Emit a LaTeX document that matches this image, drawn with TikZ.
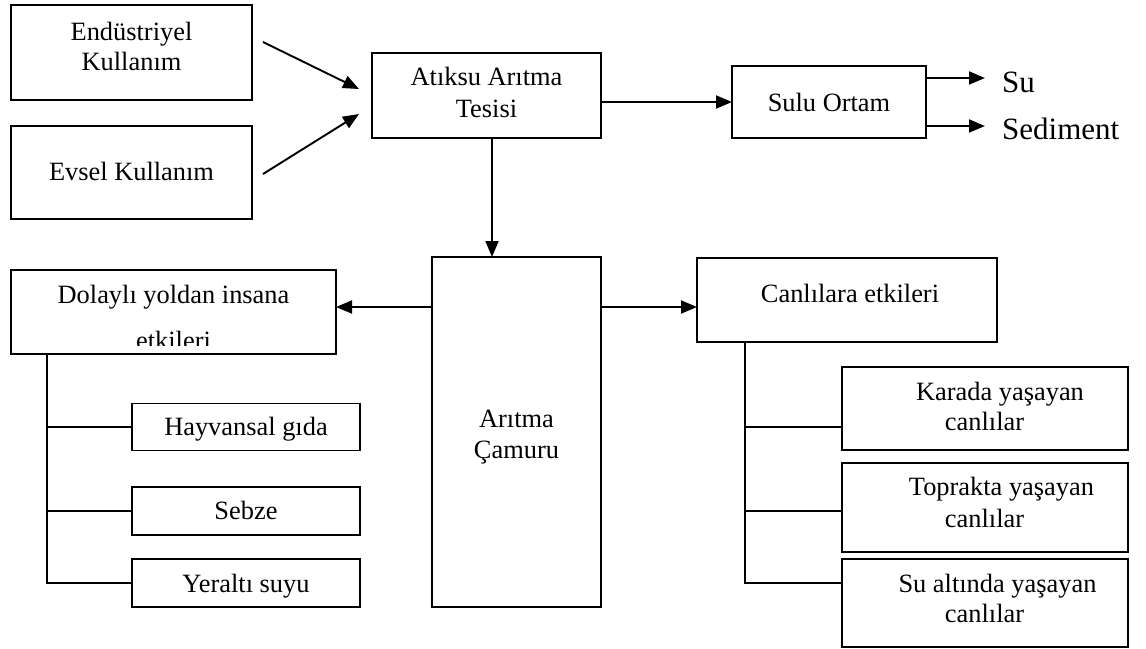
\documentclass[tikz,border=0pt]{standalone}
\usepackage{fontspec}
\setmainfont{Liberation Serif}
\usetikzlibrary{arrows.meta}
\begin{document}
\begin{tikzpicture}[x=1pt,y=-1pt,
  box/.style={draw, line width=1.9pt, inner sep=0pt, outer sep=0pt},
  txt/.style={font=\fontsize{26.4}{31}\selectfont, align=center, anchor=base, inner sep=0pt},
  big/.style={font=\fontsize{31}{36}\selectfont, anchor=base west, inner sep=0pt},
  arr/.style={line width=1.9pt, -{Triangle[length=16pt,width=13pt]}},
  link/.style={line width=1.9pt}]
\useasboundingbox (0,0) rectangle (1146,648);

% sources (text nodes are placed at the baseline of their last line)
\node[box, minimum width=241pt, minimum height=95pt] (endu) at (131.5,52.5) {};
\node[txt, font=\fontsize{26.4}{30}\selectfont] (endut) at (131.5,70) {Endüstriyel\\Kullanım};
\node[box, minimum width=241pt, minimum height=93pt] (evsel) at (131.5,172.5) {};
\node[txt] (evselt) at (131.5,180) {Evsel Kullanım};

% treatment plant and receiving water
\node[box, minimum width=229pt, minimum height=85pt] (atiksu) at (486.5,95.5) {};
\node[txt, font=\fontsize{26.4}{32}\selectfont] (atiksut) at (486.5,117) {Atıksu Arıtma\\Tesisi};
\node[box, minimum width=194pt, minimum height=72pt] (sulu) at (829,102) {};
\node[txt] (sulut) at (829,111) {Sulu Ortam};
\node[big] (su) at (1002,92) {Su};
\node[big] (sed) at (1002,139) {Sediment};
\coordinate (suend) at (985,78);
\coordinate (sedend) at (985,126);

% sludge
\node[box, minimum width=169pt, minimum height=350pt] (arit) at (516.5,432) {};
\node[txt] (aritt) at (516.5,458) {Arıtma\\Çamuru};

% indirect effects on humans
\node[box, minimum width=325pt, minimum height=84pt] (dolayli) at (173.5,312) {};
\begin{scope}
  \clip (11,270) rectangle (336,345);
  \node[txt, font=\fontsize{26.4}{46}\selectfont] (dolaylit) at (173.5,349) {Dolaylı yoldan insana\\etkileri};
\end{scope}
\node[box, minimum width=228pt, minimum height=47pt] (hayv) at (246,427) {};
\node[txt] (hayvt) at (246,435) {Hayvansal gıda};
\node[box, minimum width=228pt, minimum height=48pt] (sebze) at (246,511) {};
\node[txt] (sebzet) at (246,519) {Sebze};
\node[box, minimum width=228pt, minimum height=48pt] (yeralti) at (246,583) {};
\node[txt] (yeraltit) at (246,592) {Yeraltı suyu};

% effects on living things
\node[box, minimum width=300pt, minimum height=84pt] (canli) at (847,300) {};
\node[txt] (canlit) at (850,302) {Canlılara etkileri};
\node[box, minimum width=286pt, minimum height=83pt] (karada) at (985,408.5) {};
\node[txt, font=\fontsize{26.4}{30}\selectfont] (karadat) at (984.5,430) {\hspace*{31pt}Karada yaşayan\\canlılar};
\node[box, minimum width=286pt, minimum height=89pt] (toprak) at (985,507.5) {};
\node[txt, font=\fontsize{26.4}{32}\selectfont] (toprakt) at (984.5,527) {\hspace*{34pt}Toprakta yaşayan\\canlılar};
\node[box, minimum width=286pt, minimum height=88pt] (sualti) at (985,603) {};
\node[txt, font=\fontsize{26.4}{30}\selectfont] (sualtit) at (984.5,622) {\hspace*{26pt}Su altında yaşayan\\canlılar};

% flows
\draw[arr] ([shift={(11,-10.5)}]endu.east) -- ([shift={(-13,-6.5)}]atiksu.west);
\draw[arr] ([shift={(11,1.5)}]evsel.east) -- ([shift={(-13,18.5)}]atiksu.west);
\draw[arr] (atiksu.east |- sulu.west) -- (sulu.west);
\draw[arr] (sulu.east |- suend) -- (suend);
\draw[arr] (sulu.east |- sedend) -- (sedend);
\draw[arr] ([xshift=5.5pt]atiksu.south) -- ([xshift=5.5pt]atiksu.south |- arit.north);
\coordinate (ay) at (0,307);
\draw[arr] (arit.west |- ay) -- (dolayli.east |- ay);
\draw[arr] (arit.east |- ay) -- (canli.west |- ay);

% branch lines
\coordinate (lt) at ([xshift=36pt]dolayli.south west);
\draw[link] (lt) |- (yeralti.west);
\draw[link] (lt |- hayv.west) -- (hayv.west);
\draw[link] (lt |- sebze.west) -- (sebze.west);
\coordinate (rt) at ([xshift=48pt]canli.south west);
\draw[link] (rt) |- (sualti.west |- yeralti.west);
\draw[link] (rt |- hayv.west) -- (karada.west |- hayv.west);
\draw[link] (rt |- sebze.west) -- (toprak.west |- sebze.west);
\end{tikzpicture}
\end{document}
